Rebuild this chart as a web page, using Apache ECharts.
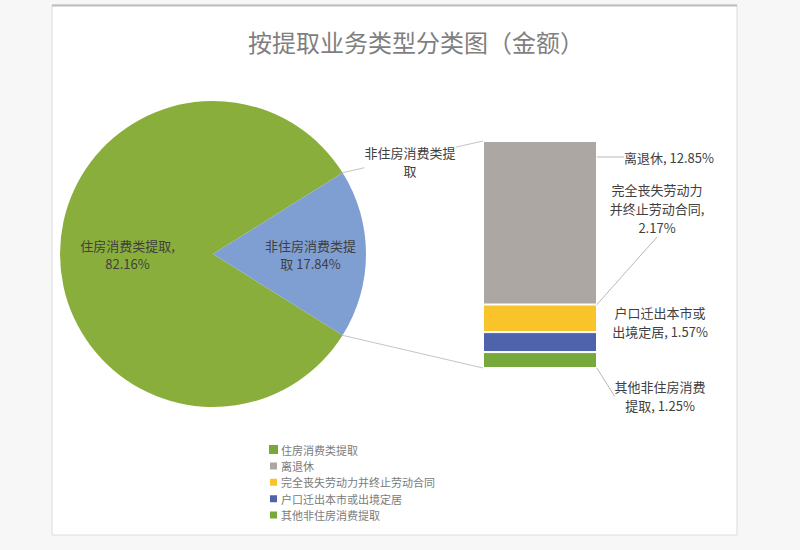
<!DOCTYPE html>
<html><head><meta charset="utf-8">
<script src="https://cdn.jsdelivr.net/npm/echarts@6/dist/echarts.min.js"></script>
<style>html,body{margin:0;padding:0;background:#f7f7f7}#c{width:800px;height:550px}</style>
</head><body><div id="c"></div>
<script>
// ---- data ----
const chartTitle = '按提取业务类型分类图（金额）';
const pieNames = ['住房消费类提取', '非住房消费类提取'];
const pieValues = [82.16, 17.84];
const barNames = ['其他非住房消费提取', '户口迁出本市或出境定居', '完全丧失劳动力并终止劳动合同', '离退休'];
const barValues = [1.25, 1.57, 2.17, 12.85];
const legendOrder = ['住房消费类提取', '离退休', '完全丧失劳动力并终止劳动合同', '户口迁出本市或出境定居', '其他非住房消费提取'];
const connectorLabel = '非住房消费类提\n取';

// ---- styles ----
const pieColors = ['#8aae3b', '#7f9fd3'];
const barColors = ['#76a83b', '#4f63ad', '#f9c32a', '#aca7a3'];
const labelOffsets = [
  {dx: 63, ref: 'bottom', dy: 28, line: true},
  {dx: 63, ref: 'top', dy: -10, line: false},
  {dx: 60, ref: 'top', dy: -96, line: true},
  {dx: 72, ref: 'top', dy: 16, line: true}
];
const pieCenter = [213, 254];
const pieRadius = 153;
const gridBox = {left: 483, top: 141, width: 114, height: 227};
const fontFam = '"Noto Sans CJK SC", "Noto Sans", sans-serif';
const textColor = '#404040';

function wrap7(name) {
  const parts = [];
  for (let i = 0; i < name.length; i += 7) parts.push(name.slice(i, i + 7));
  return parts;
}
function fmtLabel(name, value) {
  const parts = wrap7(name);
  const last = parts[parts.length - 1];
  return parts.join('\n') + (last.length >= 7 ? ',\n' : ', ') + value + '%';
}

const pieTotal = pieValues.reduce((a, b) => a + b, 0);
const barTotal = barValues.reduce((a, b) => a + b, 0);
const half = pieValues[1] / pieTotal * 360 / 2;

const chart = echarts.init(document.getElementById('c'), null, {renderer: 'svg'});

const series = [{
  type: 'pie',
  name: 'pie',
  center: pieCenter,
  radius: pieRadius,
  startAngle: -half,
  clockwise: true,
  silent: true,
  label: {
    show: true, position: 'inside', color: textColor, fontSize: 13, fontFamily: fontFam,
    lineHeight: 18, align: 'center',
    formatter: p => p.dataIndex === 0 ? p.name + ',\n' + p.value + '%' : wrap7(p.name).join('\n') + ' ' + p.value + '%'
  },
  labelLine: {show: false},
  data: pieNames.map((n, i) => ({
    name: n, value: pieValues[i], itemStyle: {color: pieColors[i]},
    label: i === 1 ? {offset: [18, 0]} : {offset: [-6, 0]}
  }))
}];

barNames.forEach((n, i) => {
  const off = labelOffsets[i];
  series.push({
    type: 'bar',
    name: n,
    stack: 'total',
    barWidth: '100%',
    silent: true,
    itemStyle: {color: barColors[i], borderColor: '#ffffff', borderWidth: 1},
    label: {
      show: true, position: 'right', color: textColor, fontSize: 13, fontFamily: fontFam,
      lineHeight: 19, align: 'center',
      formatter: p => fmtLabel(p.seriesName, p.value)
    },
    labelLine: {show: off.line, lineStyle: {color: '#b8b8b8', width: 1}},
    labelLayout: function (params) {
      const r = params.rect;
      const y = off.ref === 'top' ? r.y + off.dy : r.y + r.height + off.dy;
      return {x: r.x + r.width + off.dx, y: y, align: 'center', verticalAlign: 'middle'};
    },
    data: [barValues[i]]
  });
});

const legendColorMap = {};
pieNames.forEach((n, i) => legendColorMap[n] = pieColors[i]);
barNames.forEach((n, i) => legendColorMap[n] = barColors[i]);

const cardGraphics = [{
  type: 'rect', z: -10, silent: true,
  shape: {x: 52, y: 5, width: 685, height: 530},
  style: {fill: '#ffffff', stroke: '#dcdcdc', lineWidth: 1}
}, {
  type: 'line', z: -9, silent: true,
  shape: {x1: 52, y1: 5.5, x2: 737, y2: 5.5},
  style: {stroke: '#bdbdbd', lineWidth: 2}
}];

chart.setOption({
  backgroundColor: '#f7f7f7',
  animation: false,
  title: {
    text: chartTitle, left: 243, top: 24,
    textStyle: {color: '#7f7f7f', fontSize: 24, fontWeight: 'normal', fontFamily: fontFam}
  },
  legend: {
    orient: 'vertical', left: 263, top: 439, itemGap: 5.4, itemWidth: 9, itemHeight: 9,
    icon: 'rect', selectedMode: false,
    textStyle: {color: '#7a7a7a', fontSize: 11, lineHeight: 11, fontFamily: fontFam, padding: [0, 0, 0, -2]},
    data: legendOrder.map(n => ({name: n, itemStyle: {color: n === legendOrder[0] ? barColors[0] : legendColorMap[n]}}))
  },
  grid: {left: gridBox.left, top: gridBox.top, width: gridBox.width, height: gridBox.height, containLabel: false},
  xAxis: {type: 'category', data: ['x'], show: false},
  yAxis: {type: 'value', min: 0, max: barTotal, show: false},
  graphic: cardGraphics,
  series: series
});

// connector lines computed from pie geometry and the bar's axis positions
const topPt = chart.convertToPixel({xAxisIndex: 0, yAxisIndex: 0}, [0, barTotal]);
const botPt = chart.convertToPixel({xAxisIndex: 0, yAxisIndex: 0}, [0, 0]);
const barLeft = topPt[0] - gridBox.width / 2;
const rad = half * Math.PI / 180;
const p1 = [pieCenter[0] + pieRadius * Math.cos(rad), pieCenter[1] - pieRadius * Math.sin(rad)];
const p2 = [pieCenter[0] + pieRadius * Math.cos(rad), pieCenter[1] + pieRadius * Math.sin(rad)];
chart.setOption({
  graphic: cardGraphics.concat([{
    type: 'line', silent: true, z: 5,
    shape: {x1: p1[0], y1: p1[1], x2: barLeft, y2: topPt[1]},
    style: {stroke: '#c4c4c4', lineWidth: 1}
  }, {
    type: 'line', silent: true, z: 5,
    shape: {x1: p2[0], y1: p2[1], x2: barLeft, y2: botPt[1]},
    style: {stroke: '#c4c4c4', lineWidth: 1}
  }, {
    type: 'text', silent: true, z: 6,
    x: 410, y: 161,
    style: {text: connectorLabel, fill: textColor, fontSize: 13, fontFamily: fontFam,
      align: 'center', verticalAlign: 'middle', lineHeight: 18, backgroundColor: '#ffffff'}
  }])
});
</script>
</body></html>
